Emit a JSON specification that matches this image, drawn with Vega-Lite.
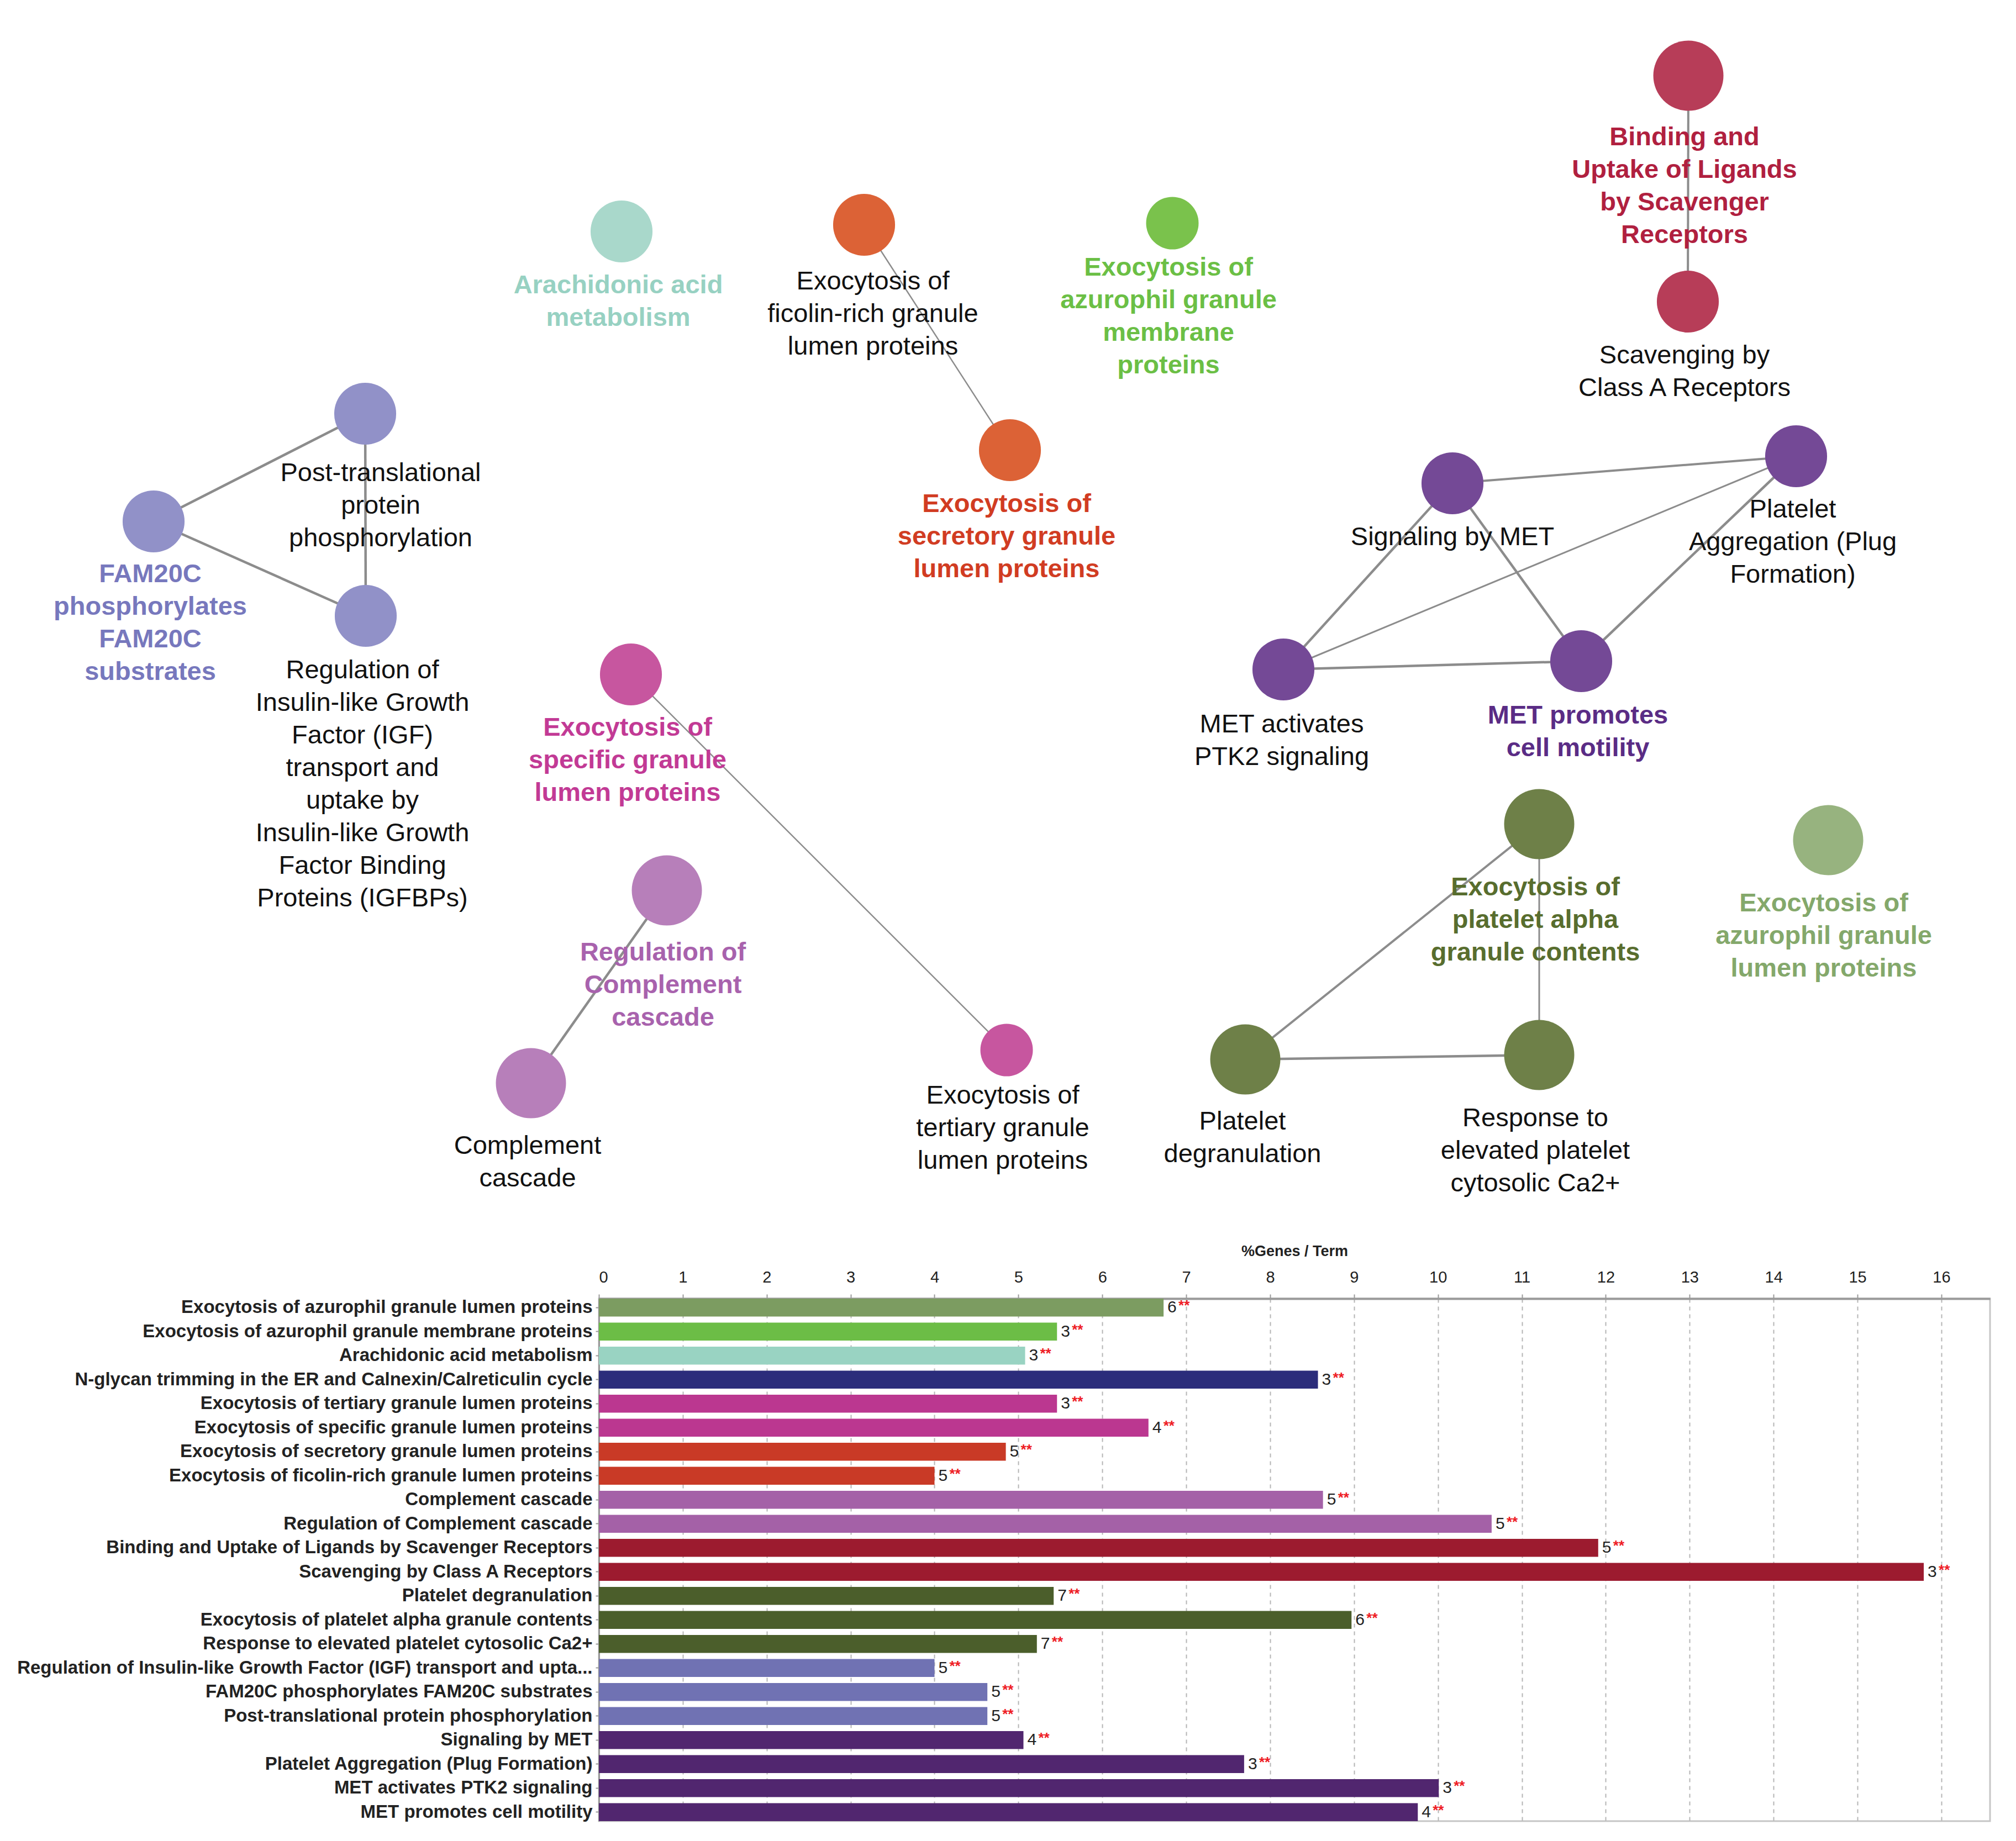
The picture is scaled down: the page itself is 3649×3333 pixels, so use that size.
{
  "$schema": "https://vega.github.io/schema/vega-lite/v6.json",
  "background": "white",
  "padding": {"left": 29, "top": 0, "right": 20, "bottom": 10},
  "spacing": 0,
  "config": {
    "font": "Liberation Sans",
    "axis": {"labelFont": "Liberation Sans", "titleFont": "Liberation Sans"},
    "text": {"font": "Liberation Sans"}
  },
  "datasets": {
    "nodes": [
      {"id": "Binding", "group": "scav", "x": 3057, "y": 137, "level": 3, "lead": true, "label": "Binding and\nUptake of Ligands\nby Scavenger\nReceptors", "lx": 3050, "ly": 226},
      {"id": "Scavenging", "group": "scav", "x": 3056, "y": 546, "level": 2, "lead": false, "label": "Scavenging by\nClass A Receptors", "lx": 3050, "ly": 621},
      {"id": "Arachidonic", "group": "arach", "x": 1126, "y": 419, "level": 2, "lead": true, "label": "Arachidonic acid\nmetabolism", "lx": 1120, "ly": 494},
      {"id": "Ficolin", "group": "secret", "x": 1565, "y": 407, "level": 2, "lead": false, "label": "Exocytosis of\nficolin-rich granule\nlumen proteins", "lx": 1581, "ly": 487},
      {"id": "AzMem", "group": "azmem", "x": 2123, "y": 404, "level": 1, "lead": true, "label": "Exocytosis of\nazurophil granule\nmembrane\nproteins", "lx": 2116, "ly": 462},
      {"id": "Secretory", "group": "secret", "x": 1829, "y": 815, "level": 2, "lead": true, "label": "Exocytosis of\nsecretory granule\nlumen proteins", "lx": 1823, "ly": 890},
      {"id": "PostTrans", "group": "fam", "x": 662, "y": 749, "level": 2, "lead": false, "label": "Post-translational\nprotein\nphosphorylation", "lx": 690, "ly": 834},
      {"id": "FAM20C", "group": "fam", "x": 279, "y": 944, "level": 2, "lead": true, "label": "FAM20C\nphosphorylates\nFAM20C\nsubstrates", "lx": 273, "ly": 1017},
      {"id": "IGF", "group": "fam", "x": 663, "y": 1115, "level": 2, "lead": false, "label": "Regulation of\nInsulin-like Growth\nFactor (IGF)\ntransport and\nuptake by\nInsulin-like Growth\nFactor Binding\nProteins (IGFBPs)", "lx": 657, "ly": 1191},
      {"id": "Specific", "group": "spec", "x": 1143, "y": 1221, "level": 2, "lead": true, "label": "Exocytosis of\nspecific granule\nlumen proteins", "lx": 1137, "ly": 1295},
      {"id": "Tertiary", "group": "spec", "x": 1823, "y": 1901, "level": 1, "lead": false, "label": "Exocytosis of\ntertiary granule\nlumen proteins", "lx": 1816, "ly": 1961},
      {"id": "RegCompl", "group": "compl", "x": 1208, "y": 1612, "level": 3, "lead": true, "label": "Regulation of\nComplement\ncascade", "lx": 1201, "ly": 1702},
      {"id": "Complement", "group": "compl", "x": 962, "y": 1961, "level": 3, "lead": false, "label": "Complement\ncascade", "lx": 956, "ly": 2052},
      {"id": "SigMET", "group": "met", "x": 2630, "y": 875, "level": 2, "lead": false, "label": "Signaling by MET", "lx": 2630, "ly": 950},
      {"id": "PltAgg", "group": "met", "x": 3252, "y": 826, "level": 2, "lead": false, "label": "Platelet\nAggregation (Plug\nFormation)", "lx": 3246, "ly": 900},
      {"id": "PTK2", "group": "met", "x": 2324, "y": 1212, "level": 2, "lead": false, "label": "MET activates\nPTK2 signaling", "lx": 2321, "ly": 1289},
      {"id": "Motility", "group": "met", "x": 2863, "y": 1197, "level": 2, "lead": true, "label": "MET promotes\ncell motility", "lx": 2857, "ly": 1273},
      {"id": "Alpha", "group": "plt", "x": 2787, "y": 1492, "level": 3, "lead": true, "label": "Exocytosis of\nplatelet alpha\ngranule contents", "lx": 2780, "ly": 1584},
      {"id": "AzLum", "group": "azlum", "x": 3310, "y": 1521, "level": 3, "lead": true, "label": "Exocytosis of\nazurophil granule\nlumen proteins", "lx": 3302, "ly": 1613},
      {"id": "Degran", "group": "plt", "x": 2255, "y": 1918, "level": 3, "lead": false, "label": "Platelet\ndegranulation", "lx": 2250, "ly": 2008},
      {"id": "Response", "group": "plt", "x": 2787, "y": 1910, "level": 3, "lead": false, "label": "Response to\nelevated platelet\ncytosolic Ca2+", "lx": 2780, "ly": 2002}
    ],
    "edges": [
      {"s": "Binding", "t": "Scavenging", "kappa": 0.7},
      {"s": "Ficolin", "t": "Secretory", "kappa": 0.4},
      {"s": "FAM20C", "t": "PostTrans", "kappa": 0.8},
      {"s": "FAM20C", "t": "IGF", "kappa": 0.8},
      {"s": "PostTrans", "t": "IGF", "kappa": 0.8},
      {"s": "Specific", "t": "Tertiary", "kappa": 0.4},
      {"s": "RegCompl", "t": "Complement", "kappa": 0.8},
      {"s": "SigMET", "t": "PltAgg", "kappa": 0.7},
      {"s": "SigMET", "t": "PTK2", "kappa": 0.8},
      {"s": "SigMET", "t": "Motility", "kappa": 0.8},
      {"s": "PltAgg", "t": "PTK2", "kappa": 0.5},
      {"s": "PltAgg", "t": "Motility", "kappa": 0.8},
      {"s": "PTK2", "t": "Motility", "kappa": 0.8},
      {"s": "Alpha", "t": "Degran", "kappa": 0.7},
      {"s": "Alpha", "t": "Response", "kappa": 0.5},
      {"s": "Degran", "t": "Response", "kappa": 0.8}
    ],
    "terms": [
      {"term": "Exocytosis of azurophil granule lumen proteins", "pct": 6.73, "genes": 6, "signif": "**", "grp": "azlum"},
      {"term": "Exocytosis of azurophil granule membrane proteins", "pct": 5.46, "genes": 3, "signif": "**", "grp": "azmem"},
      {"term": "Arachidonic acid metabolism", "pct": 5.08, "genes": 3, "signif": "**", "grp": "arach"},
      {"term": "N-glycan trimming in the ER and Calnexin/Calreticulin cycle", "pct": 8.57, "genes": 3, "signif": "**", "grp": "nglycan"},
      {"term": "Exocytosis of tertiary granule lumen proteins", "pct": 5.46, "genes": 3, "signif": "**", "grp": "spec"},
      {"term": "Exocytosis of specific granule lumen proteins", "pct": 6.55, "genes": 4, "signif": "**", "grp": "spec"},
      {"term": "Exocytosis of secretory granule lumen proteins", "pct": 4.85, "genes": 5, "signif": "**", "grp": "secret"},
      {"term": "Exocytosis of ficolin-rich granule lumen proteins", "pct": 4.0, "genes": 5, "signif": "**", "grp": "secret"},
      {"term": "Complement cascade", "pct": 8.63, "genes": 5, "signif": "**", "grp": "compl"},
      {"term": "Regulation of Complement cascade", "pct": 10.64, "genes": 5, "signif": "**", "grp": "compl"},
      {"term": "Binding and Uptake of Ligands by Scavenger Receptors", "pct": 11.91, "genes": 5, "signif": "**", "grp": "scav"},
      {"term": "Scavenging by Class A Receptors", "pct": 15.79, "genes": 3, "signif": "**", "grp": "scav"},
      {"term": "Platelet degranulation", "pct": 5.42, "genes": 7, "signif": "**", "grp": "plt"},
      {"term": "Exocytosis of platelet alpha granule contents", "pct": 8.97, "genes": 6, "signif": "**", "grp": "plt"},
      {"term": "Response to elevated platelet cytosolic Ca2+", "pct": 5.22, "genes": 7, "signif": "**", "grp": "plt"},
      {"term": "Regulation of Insulin-like Growth Factor (IGF) transport and upta...", "pct": 4.0, "genes": 5, "signif": "**", "grp": "fam"},
      {"term": "FAM20C phosphorylates FAM20C substrates", "pct": 4.63, "genes": 5, "signif": "**", "grp": "fam"},
      {"term": "Post-translational protein phosphorylation", "pct": 4.63, "genes": 5, "signif": "**", "grp": "fam"},
      {"term": "Signaling by MET", "pct": 5.06, "genes": 4, "signif": "**", "grp": "met"},
      {"term": "Platelet Aggregation (Plug Formation)", "pct": 7.69, "genes": 3, "signif": "**", "grp": "met"},
      {"term": "MET activates PTK2 signaling", "pct": 10.01, "genes": 3, "signif": "**", "grp": "met"},
      {"term": "MET promotes cell motility", "pct": 9.76, "genes": 4, "signif": "**", "grp": "met"}
    ]
  },
  "vconcat": [
    {
      "width": 2518,
      "height": 2249,
      "view": {"stroke": null},
      "layer": [
        {
          "data": {"name": "edges"},
          "transform": [
            {"lookup": "s", "from": {"data": {"name": "nodes"}, "key": "id", "fields": ["x", "y"]}, "as": ["sx", "sy"]},
            {"lookup": "t", "from": {"data": {"name": "nodes"}, "key": "id", "fields": ["x", "y"]}, "as": ["tx", "ty"]}
          ],
          "mark": {"type": "rule", "color": "#8c8c8c"},
          "encoding": {
            "x": {"field": "sx", "type": "quantitative", "scale": {"domain": [1085, 3603], "nice": false, "zero": false}, "axis": null},
            "y": {"field": "sy", "type": "quantitative", "scale": {"domain": [0, 2249], "nice": false, "zero": false, "reverse": true}, "axis": null},
            "x2": {"field": "tx"},
            "y2": {"field": "ty"},
            "strokeWidth": {"field": "kappa", "type": "quantitative", "scale": {"domain": [0.4, 0.8], "range": [2.5, 4.5]}, "legend": null}
          }
        },
        {
          "data": {"name": "nodes"},
          "mark": {"type": "circle", "opacity": 1},
          "encoding": {
            "x": {"field": "x", "type": "quantitative", "scale": {"domain": [1085, 3603], "nice": false, "zero": false}, "axis": null},
            "y": {"field": "y", "type": "quantitative", "scale": {"domain": [0, 2249], "nice": false, "zero": false, "reverse": true}, "axis": null},
            "size": {"field": "level", "type": "ordinal", "scale": {"domain": [1, 2, 3], "range": [9025, 16129, 25281]}, "legend": null},
            "color": {
              "field": "group", "type": "nominal", "legend": null,
              "scale": {
                "domain": ["scav", "arach", "secret", "azmem", "fam", "spec", "compl", "met", "plt", "azlum"],
                "range": ["#b73d58", "#a9d8cb", "#dc6236", "#7ac24c", "#9191c8", "#c7569f", "#b77fba", "#744996", "#6e8048", "#97b37f"]
              }
            }
          }
        },
        {
          "data": {"name": "nodes"},
          "transform": [{"filter": "!datum.lead"}],
          "mark": {"type": "text", "lineBreak": "\n", "baseline": "top", "align": "center", "fontSize": 47, "lineHeight": 59, "color": "#111111"},
          "encoding": {
            "x": {"field": "lx", "type": "quantitative", "scale": {"domain": [1085, 3603], "nice": false, "zero": false}, "axis": null},
            "y": {"field": "ly", "type": "quantitative", "scale": {"domain": [0, 2249], "nice": false, "zero": false, "reverse": true}, "axis": null},
            "text": {"field": "label"}
          }
        },
        {
          "data": {"name": "nodes"},
          "transform": [{"filter": "datum.lead"}],
          "mark": {"type": "text", "lineBreak": "\n", "baseline": "top", "align": "center", "fontSize": 47, "lineHeight": 59, "fontWeight": "bold"},
          "encoding": {
            "x": {"field": "lx", "type": "quantitative", "scale": {"domain": [1085, 3603], "nice": false, "zero": false}, "axis": null},
            "y": {"field": "ly", "type": "quantitative", "scale": {"domain": [0, 2249], "nice": false, "zero": false, "reverse": true}, "axis": null},
            "text": {"field": "label"},
            "color": {
              "field": "group", "type": "nominal", "legend": null,
              "scale": {
                "domain": ["scav", "arach", "secret", "azmem", "fam", "spec", "compl", "met", "plt", "azlum"],
                "range": ["#b0203f", "#97d1c2", "#d13c22", "#6bbf45", "#7778bd", "#c23a95", "#a862ad", "#5a2c85", "#586d2e", "#84a86b"]
              }
            }
          }
        }
      ],
      "resolve": {"scale": {"color": "independent"}}
    },
    {
      "width": 2518,
      "height": 946,
      "view": {"stroke": "#c6c6c6", "strokeWidth": 3},
      "data": {"name": "terms"},
      "encoding": {
        "y": {
          "field": "term", "type": "nominal", "sort": null,
          "scale": {"paddingInner": 0.25, "paddingOuter": 0},
          "axis": {
            "title": null, "labelFontSize": 33, "labelFontWeight": "bold", "labelColor": "#222222", "labelLimit": 2000,
            "tickSize": 6, "tickWidth": 2, "tickColor": "#999999", "domainColor": "#999999", "domainWidth": 3, "labelPadding": 6
          }
        }
      },
      "layer": [
        {
          "mark": {"type": "bar"},
          "encoding": {
            "x": {
              "field": "pct", "type": "quantitative",
              "scale": {"domain": [0, 16.58], "nice": false},
              "axis": {
                "orient": "top", "values": [0, 1, 2, 3, 4, 5, 6, 7, 8, 9, 10, 11, 12, 13, 14, 15, 16], "format": "d",
                "grid": true, "gridDash": [7, 7], "gridColor": "#b5b5b5", "gridWidth": 2,
                "domainColor": "#9a9a9a", "domainWidth": 4, "tickColor": "#9a9a9a", "tickSize": 8, "tickWidth": 2,
                "labelFontSize": 29, "labelColor": "#222222", "labelPadding": 16,
                "title": "%Genes / Term", "titleFontSize": 27, "titleFontWeight": "bold", "titleColor": "#222222", "titlePadding": 19
              }
            },
            "color": {
              "field": "grp", "type": "nominal", "legend": null,
              "scale": {
                "domain": ["azlum", "azmem", "arach", "nglycan", "spec", "secret", "compl", "scav", "plt", "fam", "met"],
                "range": ["#7c9c61", "#6cbd46", "#99d3c2", "#2b2d7b", "#bb3790", "#c93a26", "#a461a7", "#9c1b2f", "#4b5e2b", "#7072b3", "#51266f"]
              }
            }
          }
        },
        {
          "mark": {"type": "text", "align": "left", "baseline": "middle", "dx": 7, "fontSize": 30, "color": "#222222"},
          "encoding": {
            "x": {"field": "pct", "type": "quantitative"},
            "text": {"field": "genes"}
          }
        },
        {
          "mark": {"type": "text", "align": "left", "baseline": "middle", "dx": 27, "dy": -3, "fontSize": 26, "fontWeight": "bold", "color": "#ee1c24"},
          "encoding": {
            "x": {"field": "pct", "type": "quantitative"},
            "text": {"field": "signif"}
          }
        }
      ]
    }
  ]
}
